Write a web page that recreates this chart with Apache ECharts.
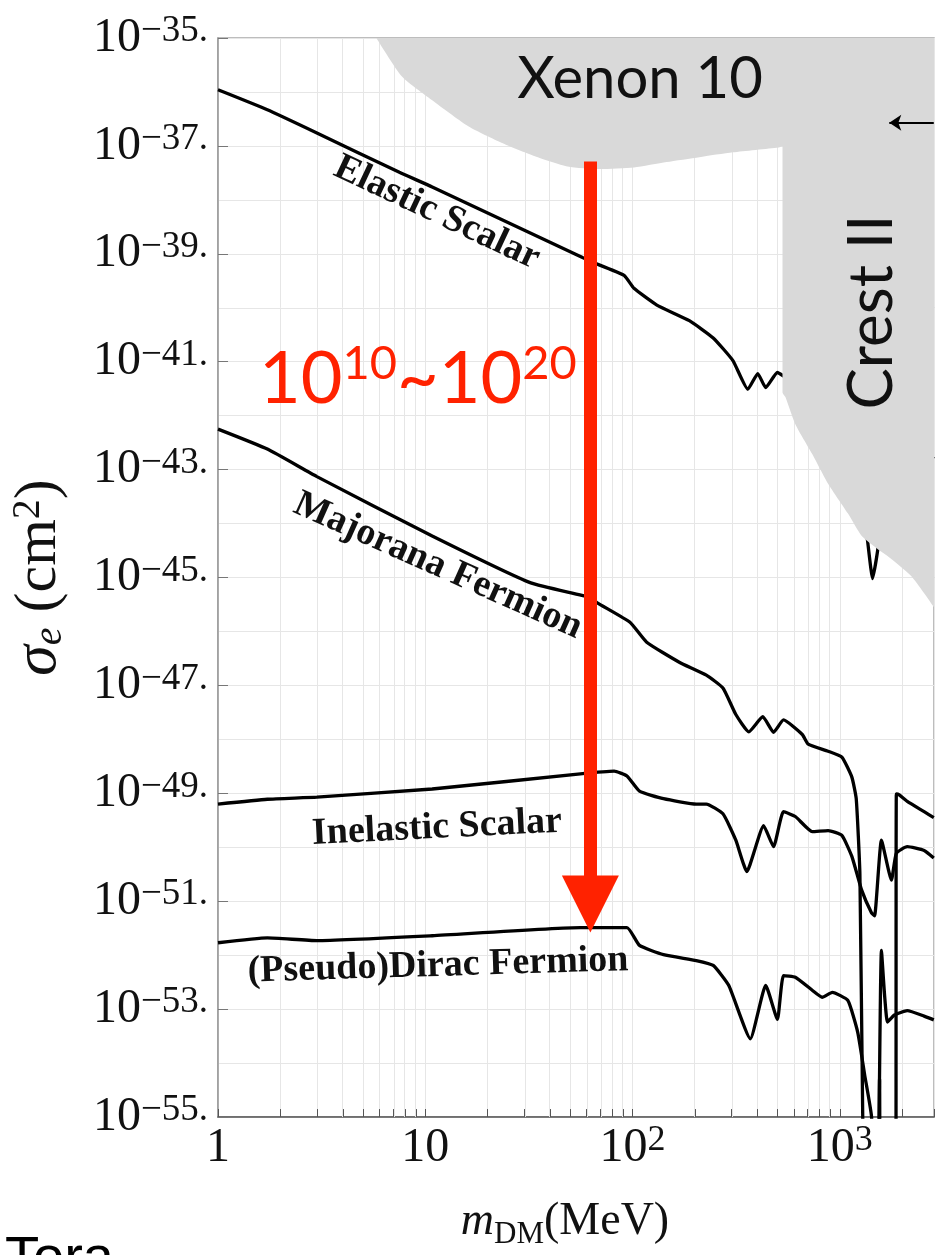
<!DOCTYPE html>
<html><head><meta charset="utf-8">
<script src="https://cdn.jsdelivr.net/npm/echarts@6/dist/echarts.min.js"></script>
<style>html,body{margin:0;padding:0;background:#fff}#c{width:937px;height:1255px}</style>
</head><body><div id="c"></div>
<script>
// ---- axis ranges (log10 units) ----
const xLogMin = 0, xLogMax = 3.4544;      // 1 MeV .. ~2850 MeV
const yLogMin = -55, yLogMax = -35;       // 1e-55 .. 1e-35 cm^2
const xTickLabels = [['1',''],['10',''],['10','2'],['10','3']];
const yTickExps = [-55,-53,-51,-49,-47,-45,-43,-41,-39,-37,-35];
const xMinorValues = [2,3,4,5,6,7,8,9,20,30,40,50,60,70,80,90,200,300,400,500,600,700,800,900,2000];

// ---- curves: mass in MeV, log10(sigma_e / cm^2) ----
const elasticMass = [1,1.73,3.0,7.5,10.8,56,62.6,91,101.6,131,188,245,305,360,402,439,500,547,610,736,878,1023,1143,1276,1362,1439,1521,1588,1698,1874,2284,2840];
const elasticLogSigma = [-35.96,-36.33,-36.76,-37.49,-37.76,-39.05,-39.14,-39.40,-39.64,-39.95,-40.24,-40.56,-40.98,-41.51,-41.22,-41.48,-41.20,-41.29,-41.38,-41.60,-41.66,-41.75,-42.40,-43.50,-44.33,-45.02,-44.51,-43.87,-43.13,-42.67,-42.58,-42.80];

const majoranaMass = [1,1.73,3.0,10.8,32.3,62.6,67.6,97.2,117,168,227,273,315,364,425,479,535,659,704,878,1023,1143,1200,1250,1290,1340,1520,1555,1590,1860,1874,1936,2115,2551,2840];
const majoranaLogSigma = [-42.25,-42.62,-43.13,-44.23,-45.10,-45.37,-45.47,-45.83,-46.20,-46.57,-46.81,-47.05,-47.54,-47.86,-47.58,-47.87,-47.64,-47.91,-48.09,-48.22,-48.33,-48.70,-49.10,-50.5,-55,-57,-57,-54.29,-57,-57,-49.01,-49.03,-49.15,-49.34,-49.45];

const inelasticMass = [1,1.73,3.0,10.8,56,81.5,94,108,141,203,227,273,315,356,429,479,535,610,736,878,1023,1143,1276,1423,1471,1588,1774,1874,2115,2551,2840];
const inelasticLogSigma = [-49.20,-49.11,-49.07,-48.92,-48.64,-48.59,-48.68,-48.96,-49.10,-49.20,-49.20,-49.38,-49.87,-50.45,-49.60,-49.99,-49.34,-49.43,-49.71,-49.69,-49.78,-50.17,-50.80,-51.22,-51.27,-49.87,-50.61,-50.11,-49.99,-50.06,-50.20];

const diracMass = [1,1.73,3.0,10.8,56,94,108,141,203,245,291,370,439,500,535,610,736,822,920,1093,1220,1318,1423,1480,1521,1588,1698,1834,2115,2551,2840];
const diracLogSigma = [-51.77,-51.68,-51.73,-51.64,-51.49,-51.49,-51.82,-51.99,-52.10,-52.19,-52.56,-53.55,-52.56,-53.19,-52.38,-52.41,-52.65,-52.78,-52.69,-52.84,-53.43,-54.22,-55.0,-57,-57,-51.91,-53.24,-53.11,-53.03,-53.13,-53.20];

// ---- excluded region (Xenon 10 + Crest II) lower boundary ----
const excludedMass = [5.81,7.74,11.2,16.2,23.3,33.8,48.6,69.8,101.6,146,210,305,506,529,529,547,610,736,878,1093,1276,1521,1698,2209,2848];
const excludedLogSigma = [-35.0,-35.72,-36.20,-36.64,-36.94,-37.19,-37.38,-37.43,-37.40,-37.30,-37.21,-37.12,-37.03,-37.0,-41.57,-41.66,-42.16,-42.71,-43.26,-43.81,-44.23,-44.47,-44.60,-44.97,-45.55];

// ---- annotation arrows ----
const redArrowMass = 62.6, redArrowFrom = -37.29, redArrowTo = -51.05;
const blackArrowFromMass = 2840, blackArrowToMass = 1733, blackArrowLogSigma = -36.57;

const SERIF = 'Liberation Serif';
const pts = (m, s) => m.map((v, i) => [Math.log10(v), s[i]]);
const curve = (name, m, s) => ({
  type: 'line', name, data: pts(m, s), z: 3, symbol: 'none', smooth: 0.15, silent: true,
  lineStyle: { color: '#000', width: 3.3 }
});
const tickLen = 8 / 54.4;

const chart = echarts.init(document.getElementById('c'), null, { renderer: 'canvas' });
const option = {
  animation: false,
  backgroundColor: '#fff',
  grid: { left: 217, top: 38, right: -3, bottom: 130, show: true, borderColor: '#a8a8a8', borderWidth: 1.5, backgroundColor: 'transparent' },
  xAxis: {
    type: 'value', min: xLogMin, max: xLogMax, interval: 1,
    axisLine: { show: true, lineStyle: { color: '#555', width: 1.5 } },
    axisTick: { show: true, inside: true, length: 8, lineStyle: { color: '#555' } },
    splitLine: { show: true, lineStyle: { color: '#e6e6e6', width: 1 } },
    axisLabel: {
      margin: 6,
      formatter: v => {
        const k = Math.round(v);
        if (Math.abs(v - k) > 1e-6 || k < 0 || k >= xTickLabels.length) return '';
        const [b, s] = xTickLabels[k];
        return '{b|' + b + '}' + (s ? '{s|' + s + '}' : '');
      },
      rich: {
        b: { fontFamily: SERIF, fontSize: 48, lineHeight: 50, color: '#111' },
        s: { fontFamily: SERIF, fontSize: 36, lineHeight: 27, verticalAlign: 'top', color: '#111' }
      }
    },
    name: '{i|m}{sub|DM}{r|(MeV)}', nameLocation: 'middle', nameGap: 77,
    nameTextStyle: {
      padding: [0, 22, 0, 0],
      rich: {
        i: { fontFamily: SERIF, fontStyle: 'italic', fontSize: 46, lineHeight: 56, color: '#111' },
        sub: { fontFamily: SERIF, fontSize: 31, lineHeight: 22, verticalAlign: 'bottom', color: '#111' },
        r: { fontFamily: SERIF, fontSize: 46, lineHeight: 56, color: '#111' }
      }
    }
  },
  yAxis: {
    type: 'value', min: yLogMin, max: yLogMax, interval: 2,
    axisLine: { show: true, lineStyle: { color: '#999', width: 1.5 } },
    axisTick: { show: true, inside: true, length: 10, lineStyle: { color: '#777' } },
    splitLine: { show: true, lineStyle: { color: '#e6e6e6', width: 1 } },
    minorTick: { show: false, splitNumber: 2 },
    minorSplitLine: { show: true, lineStyle: { color: '#e6e6e6', width: 1 } },
    axisLabel: {
      margin: 10,
      formatter: v => {
        const k = Math.round(v);
        if (yTickExps.indexOf(k) < 0) return '';
        return '{b|10}{s|\u2212' + (-k) + '.}';
      },
      rich: {
        b: { fontFamily: SERIF, fontSize: 48, lineHeight: 50, color: '#111' },
        s: { fontFamily: SERIF, fontSize: 37, lineHeight: 27, verticalAlign: 'top', color: '#111' }
      }
    },
    name: '{i|\u03c3}{sub|e}{r| (cm}{sup|2}{r|)}', nameLocation: 'middle', nameRotate: 90, nameGap: 148,
    nameTextStyle: {
      rich: {
        i: { fontFamily: SERIF, fontStyle: 'italic', fontSize: 62, lineHeight: 62, color: '#111' },
        sub: { fontFamily: SERIF, fontStyle: 'italic', fontSize: 40, lineHeight: 24, verticalAlign: 'bottom', color: '#111' },
        r: { fontFamily: SERIF, fontSize: 60, lineHeight: 62, color: '#111' },
        sup: { fontFamily: SERIF, fontSize: 40, lineHeight: 24, verticalAlign: 'top', color: '#111' }
      }
    }
  },
  series: [
    { // minor vertical grid lines
      type: 'line', data: [], z: 1, silent: true,
      markLine: { z: 1, silent: true, animation: false, symbol: ['none', 'none'], label: { show: false },
        lineStyle: { color: '#e6e6e6', width: 1, type: 'solid' },
        data: xMinorValues.map(v => ({ xAxis: Math.log10(v) })) }
    },
    { // minor x ticks
      type: 'line', data: [], z: 2, silent: true,
      markLine: { z: 2, silent: true, animation: false, symbol: ['none', 'none'], label: { show: false },
        lineStyle: { color: '#555', width: 1, type: 'solid' },
        data: xMinorValues.map(v => [{ coord: [Math.log10(v), yLogMin] }, { coord: [Math.log10(v), yLogMin + tickLen] }]) }
    },
    curve('Elastic Scalar', elasticMass, elasticLogSigma),
    curve('Majorana Fermion', majoranaMass, majoranaLogSigma),
    curve('Inelastic Scalar', inelasticMass, inelasticLogSigma),
    curve('(Pseudo)Dirac Fermion', diracMass, diracLogSigma),
    {
      type: 'line', name: 'Excluded', data: pts(excludedMass, excludedLogSigma), z: 4, symbol: 'none', smooth: 0.2, silent: true,
      lineStyle: { width: 0, opacity: 0 }, areaStyle: { color: '#d9d9d9', opacity: 1, origin: 'end' }
    },
    {
      type: 'line', data: [], z: 6, silent: true,
      markLine: { z: 7, silent: true, animation: false, symbol: ['none', 'triangle'], symbolSize: 57, label: { show: false },
        lineStyle: { color: '#ff2200', width: 13, type: 'solid', opacity: 1 }, itemStyle: { color: '#ff2200' },
        data: [[{ coord: [Math.log10(redArrowMass), redArrowFrom] }, { coord: [Math.log10(redArrowMass), redArrowTo] }]] }
    },
    {
      type: 'line', data: [], z: 6, silent: true,
      markLine: { z: 7, silent: true, animation: false, symbol: ['none', 'arrow'], symbolSize: 12, label: { show: false },
        lineStyle: { color: '#000', width: 2, type: 'solid', opacity: 1 }, itemStyle: { color: '#000' },
        data: [[{ coord: [Math.log10(blackArrowFromMass), blackArrowLogSigma] }, { coord: [Math.log10(blackArrowToMass), blackArrowLogSigma] }]] }
    }
  ],
  graphic: [
    { type: 'text', z: 100, x: 640, y: 79, style: { text: 'Xenon 10', fontFamily: 'Lato', fontSize: 58, fill: '#111', align: 'center', verticalAlign: 'middle' } },
    { type: 'text', z: 100, x: 872, y: 312, rotation: Math.PI / 2, style: { text: 'Crest II', fontFamily: 'Lato', fontSize: 62, fill: '#111', align: 'center', verticalAlign: 'middle' } },
    { type: 'text', z: 100, x: 259, y: 380, style: {
        text: '{b|10}{s|10}{b|~}{b|10}{s|20}', align: 'left', verticalAlign: 'middle',
        rich: {
          b: { fontFamily: 'Lato', fontSize: 72, lineHeight: 80, fill: '#ff2200' },
          s: { fontFamily: 'Lato', fontSize: 47, lineHeight: 50, verticalAlign: 'top', fill: '#ff2200' }
        } } },
    { type: 'text', z: 100, x: 437, y: 213, rotation: -0.44, style: { text: 'Elastic Scalar', fontFamily: SERIF, fontWeight: 'bold', fontSize: 38, fill: '#111', align: 'center', verticalAlign: 'middle' } },
    { type: 'text', z: 100, x: 438, y: 566, rotation: -0.42, style: { text: 'Majorana Fermion', fontFamily: SERIF, fontWeight: 'bold', fontSize: 38, fill: '#111', align: 'center', verticalAlign: 'middle' } },
    { type: 'text', z: 100, x: 437, y: 828, rotation: 0.05, style: { text: 'Inelastic Scalar', fontFamily: SERIF, fontWeight: 'bold', fontSize: 38, fill: '#111', align: 'center', verticalAlign: 'middle' } },
    { type: 'text', z: 100, x: 438, y: 966, rotation: 0.03, style: { text: '(Pseudo)Dirac Fermion', fontFamily: SERIF, fontWeight: 'bold', fontSize: 38, fill: '#111', align: 'center', verticalAlign: 'middle' } },
    { type: 'text', z: 100, x: 5, y: 1232, style: { text: 'Tora', fontFamily: 'Liberation Sans', fontSize: 56, fill: '#000', align: 'left', verticalAlign: 'top' } }
  ]
};
chart.setOption(option);
</script></body></html>
